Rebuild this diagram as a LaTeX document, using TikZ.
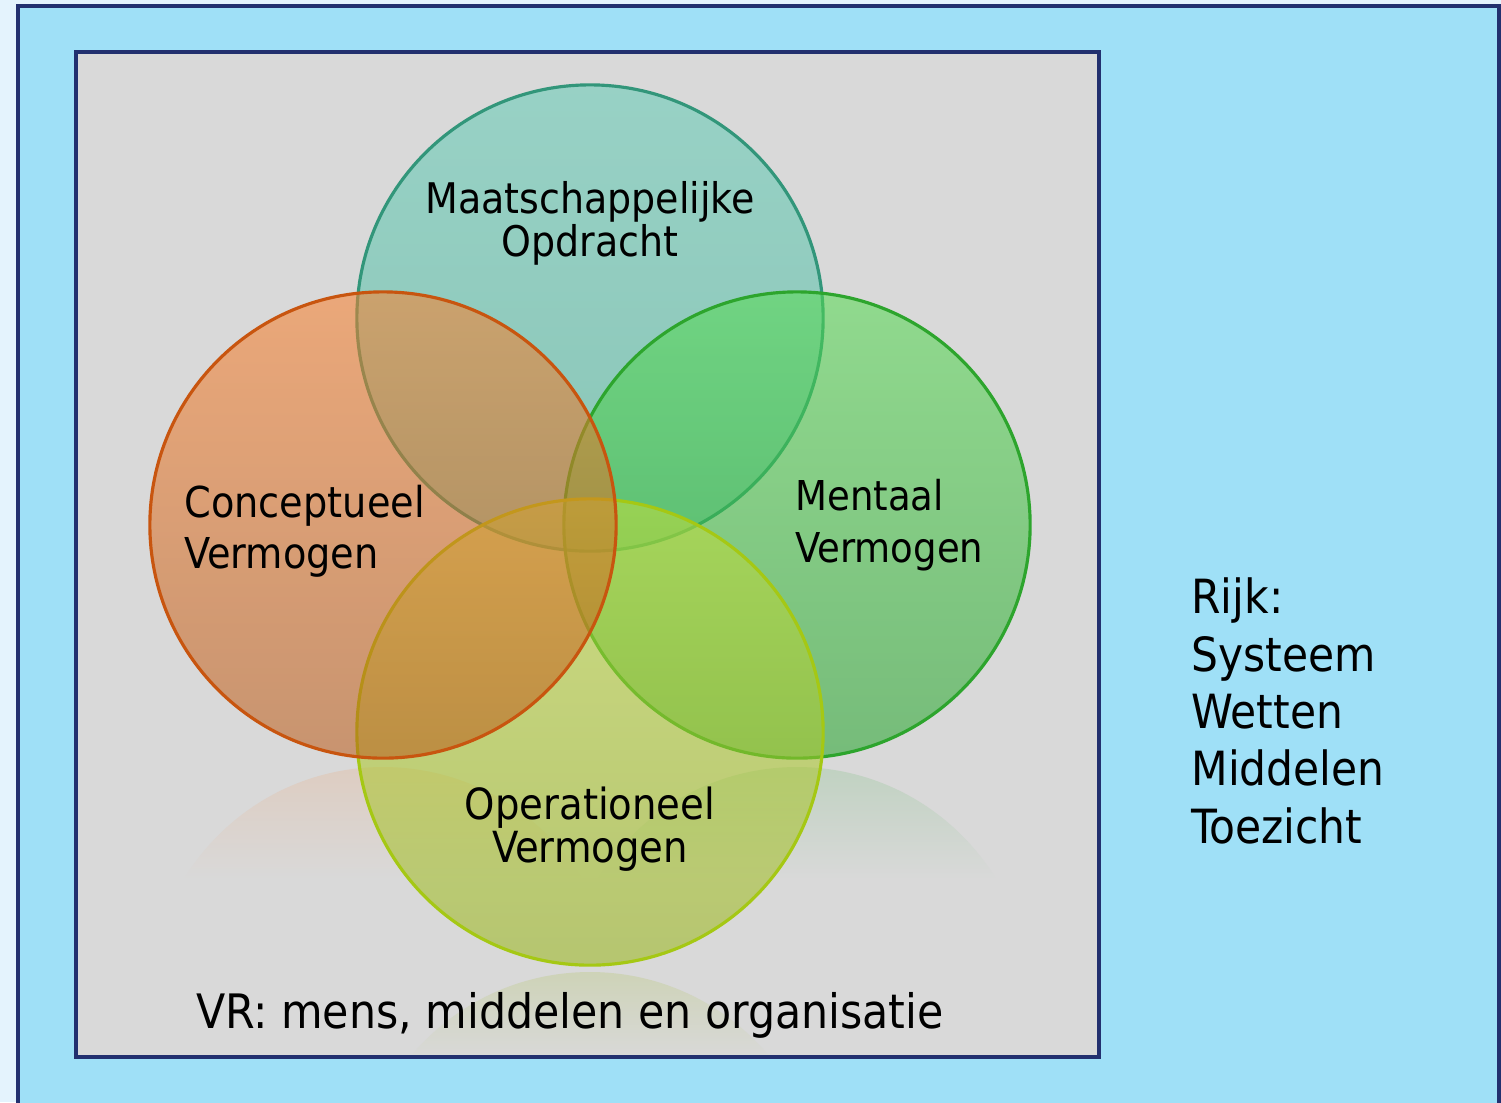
\documentclass[tikz,border=0pt]{standalone}
\usepackage{fontspec}
\setmainfont{DejaVu Sans Condensed}
\definecolor{paleblue}{HTML}{E4F3FD}
\definecolor{skyblue}{HTML}{9FE0F7}
\definecolor{navyline}{HTML}{22306F}
\definecolor{panelgray}{HTML}{D9D9D9}
\definecolor{tealtop}{RGB}{99,204,182}
\definecolor{tealbottom}{RGB}{73,182,155}
\definecolor{tealline}{RGB}{50,150,122}
\definecolor{orangetop}{RGB}{250,128,44}
\definecolor{orangebottom}{RGB}{186,92,26}
\definecolor{orangeline}{RGB}{200,85,15}
\definecolor{greentop}{RGB}{86,219,81}
\definecolor{greenbottom}{RGB}{37,164,44}
\definecolor{greenline}{RGB}{45,165,45}
\definecolor{limetop}{RGB}{195,222,59}
\definecolor{limebottom}{RGB}{153,182,26}
\definecolor{limeline}{RGB}{165,200,20}
\begin{document}
\begin{tikzpicture}[x=0.01cm, y=-0.01cm,
    ring/.style={circle, minimum size=4.66cm, inner sep=0pt, line width=0.9pt, fill opacity=0.55},
    tekst/.style={text=black, align=#1},
    tekst/.default=center]
    \useasboundingbox (0,0) rectangle (1501,1102);

    % achtergrond en kaders
    \fill[paleblue] (0,0) rectangle (1501,1102);
    \fill[skyblue, draw=navyline, line width=1.2pt] (18,6) rectangle (1499,1130);
    \fill[panelgray] (76,52) rectangle (1099,1057);

    % reflecties
    \begin{scope}
        \clip (76,52) rectangle (1099,1057);
        \begin{scope}
            \clip (383,1000) circle[radius=233];
            \shade[top color=orangetop!14!panelgray, bottom color=panelgray] (140,765) rectangle (630,880);
        \end{scope}
        \begin{scope}
            \clip (797,1000) circle[radius=233];
            \shade[top color=greenbottom!14!panelgray, bottom color=panelgray] (560,765) rectangle (1040,880);
        \end{scope}
        \begin{scope}
            \clip (590,1205) circle[radius=233];
            \shade[top color=limebottom!18!panelgray, bottom color=panelgray] (350,970) rectangle (830,1060);
        \end{scope}
    \end{scope}
    \draw[navyline, line width=0.9pt] (76,52) rectangle (1099,1057);

    % vier cirkels
    \node[ring, top color=tealtop, bottom color=tealbottom, draw=tealline] (opdracht) at (590,318) {};
    \node[ring, top color=greentop, bottom color=greenbottom, draw=greenline] (mentaal) at (797,525) {};
    \node[ring, top color=limetop, bottom color=limebottom, draw=limeline] (operatie) at (590,732) {};
    \node[ring, top color=orangetop, bottom color=orangebottom, draw=orangeline] (concept) at (383,525) {};

    % teksten
    \node[tekst, font=\fontsize{12}{12.2}\selectfont] (opdrachttxt) at (590,223) {Maatschappelijke\\Opdracht};
    \node[tekst=left, anchor=west, font=\fontsize{12.1}{14.5}\selectfont] (concepttxt) at (172,531) {Conceptueel\\Vermogen};
    \node[tekst=left, anchor=west, font=\fontsize{11.7}{14.8}\selectfont] (mentaaltxt) at (783,525) {Mentaal\\Vermogen};
    \node[tekst, font=\fontsize{12.2}{12.2}\selectfont] (operatietxt) at (590,829) {Operationeel\\Vermogen};
    \node[font=\fontsize{13.5}{16}\selectfont] (vrtxt) at (570,1015) {VR: mens, middelen en organisatie};
    \node[tekst=left, anchor=west, font=\fontsize{13.4}{16.3}\selectfont] (rijktxt) at (1179,711) {Rijk:\\Systeem\\Wetten\\Middelen\\Toezicht};
\end{tikzpicture}
\end{document}
